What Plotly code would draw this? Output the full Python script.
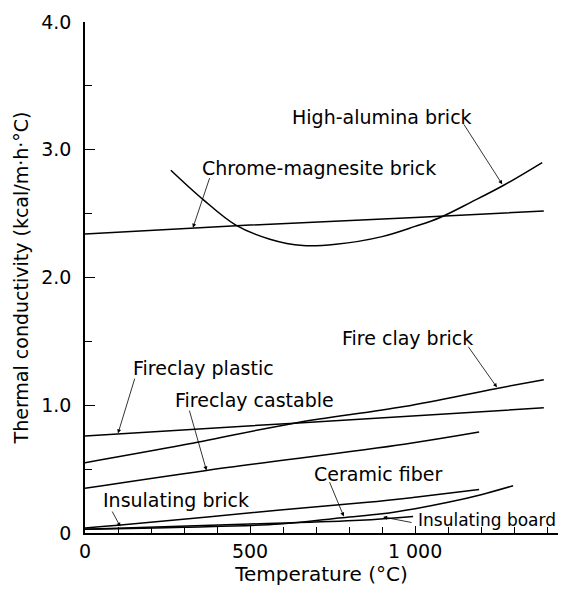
import plotly.graph_objects as go

# ---- data (temperature in °C, conductivity in kcal/m·h·°C) ----
chrome_x = [0, 500, 1000, 1390]
chrome_y = [2.34, 2.41, 2.47, 2.52]

alumina_x = [260, 358, 457, 560, 660, 760, 900, 1000, 1076, 1170, 1267, 1385]
alumina_y = [2.84, 2.61, 2.41, 2.30, 2.25, 2.26, 2.32, 2.40, 2.47, 2.59, 2.72, 2.90]

fcbrick_x = [0, 300, 634, 967, 1244, 1390]
fcbrick_y = [0.55, 0.69, 0.86, 0.99, 1.13, 1.20]

plastic_x = [0, 634, 1390]
plastic_y = [0.76, 0.86, 0.98]

castable_x = [0, 368, 967, 1194]
castable_y = [0.35, 0.49, 0.695, 0.79]

insbrick_x = [0, 100, 591, 856, 1000, 1194]
insbrick_y = [0.04, 0.06, 0.18, 0.24, 0.28, 0.34]

ceramic_x = [0, 300, 591, 780, 900, 1000, 1100, 1200, 1297]
ceramic_y = [0.03, 0.045, 0.07, 0.12, 0.15, 0.19, 0.24, 0.30, 0.37]

board_x = [0, 500, 833, 994]
board_y = [0.03, 0.07, 0.10, 0.13]

x_tickvals = [0, 500, 1000]
x_ticktext = ["0", "500", "1 000"]
y_tickvals = [0, 1, 2, 3, 4]
y_ticktext = ["0", "1.0", "2.0", "3.0", "4.0"]

# labels: text, text x, text y, arrow tail x, tail y, head x, head y
labels = [
    ("High-alumina brick", 900, 3.26, 1145, 3.21, 1264, 2.73),
    ("Chrome-magnesite brick", 710, 2.86, 379, 2.79, 327, 2.39),
    ("Fire clay brick", 976, 1.53, 1158, 1.47, 1248, 1.14),
    ("Fireclay plastic", 358, 1.29, 152, 1.22, 100, 0.78),
    ("Fireclay castable", 515, 1.04, 315, 0.97, 368, 0.49),
    ("Insulating brick", 276, 0.26, 80, 0.18, 107, 0.05),
    ("Ceramic fiber", 888, 0.46, 739, 0.41, 784, 0.13),
]
board_label = ("Insulating board", 1003, 0.10, 994, 0.08, 903, 0.125)

FONT = "DejaVu Sans"
LBL = 19

fig = go.Figure()
series = [
    (chrome_x, chrome_y, "Chrome-magnesite brick", "linear"),
    (alumina_x, alumina_y, "High-alumina brick", "spline"),
    (fcbrick_x, fcbrick_y, "Fire clay brick", "spline"),
    (plastic_x, plastic_y, "Fireclay plastic", "spline"),
    (castable_x, castable_y, "Fireclay castable", "spline"),
    (insbrick_x, insbrick_y, "Insulating brick", "spline"),
    (ceramic_x, ceramic_y, "Ceramic fiber", "spline"),
    (board_x, board_y, "Insulating board", "spline"),
]
for xs, ys, name, shape in series:
    fig.add_trace(go.Scatter(x=xs, y=ys, mode="lines", name=name,
                             line=dict(color="black", width=1.5, shape=shape),
                             showlegend=False))

ann = []
for text, tx, ty, ax, ay, hx, hy in labels:
    ann.append(dict(x=tx, y=ty, xref="x", yref="y", text=text, showarrow=False,
                    font=dict(size=LBL, color="black", family=FONT)))
    ann.append(dict(x=hx, y=hy, xref="x", yref="y", ax=ax, ay=ay, axref="x", ayref="y",
                    text="", showarrow=True, arrowhead=2, arrowsize=1,
                    arrowwidth=0.8, arrowcolor="black"))
t, tx, ty, ax, ay, hx, hy = board_label
ann.append(dict(x=tx, y=ty, xref="x", yref="y", text=t, showarrow=False, xanchor="left",
                font=dict(size=17, color="black", family=FONT)))
ann.append(dict(x=hx, y=hy, xref="x", yref="y", ax=ax, ay=ay, axref="x", ayref="y",
                text="", showarrow=True, arrowhead=2, arrowsize=1,
                arrowwidth=0.8, arrowcolor="black"))

# page body adds an 8px offset; size the figure to fit the 576x590 window
fig.update_layout(
    width=568, height=582,
    margin=dict(l=77, r=18, t=14, b=57),
    paper_bgcolor="white", plot_bgcolor="white",
    font=dict(family=FONT, color="black", size=LBL),
    annotations=ann,
)
fig.update_xaxes(range=[0, 1433], showgrid=False, zeroline=False, automargin=False,
                 showline=True, linecolor="black", linewidth=1.5,
                 ticks="inside", ticklen=7, tickcolor="black", tickwidth=1,
                 tickvals=x_tickvals, ticktext=x_ticktext, ticklabelstandoff=0,
                 minor=dict(ticks="inside", ticklen=6, dtick=100, tickcolor="black"),
                 tickfont=dict(size=19),
                 title=dict(text="Temperature (°C)", font=dict(size=20), standoff=4))
fig.update_yaxes(range=[0, 4], showgrid=False, zeroline=False, automargin=False,
                 showline=True, linecolor="black", linewidth=1.5,
                 ticks="inside", ticklen=10, tickcolor="black", tickwidth=1,
                 tickvals=y_tickvals, ticktext=y_ticktext, ticklabelstandoff=8,
                 minor=dict(ticks="inside", ticklen=7, dtick=0.5, tickcolor="black"),
                 tickfont=dict(size=19),
                 title=dict(text="Thermal conductivity (kcal/m·h·°C)", font=dict(size=19), standoff=8))

fig.write_html("out.html")
